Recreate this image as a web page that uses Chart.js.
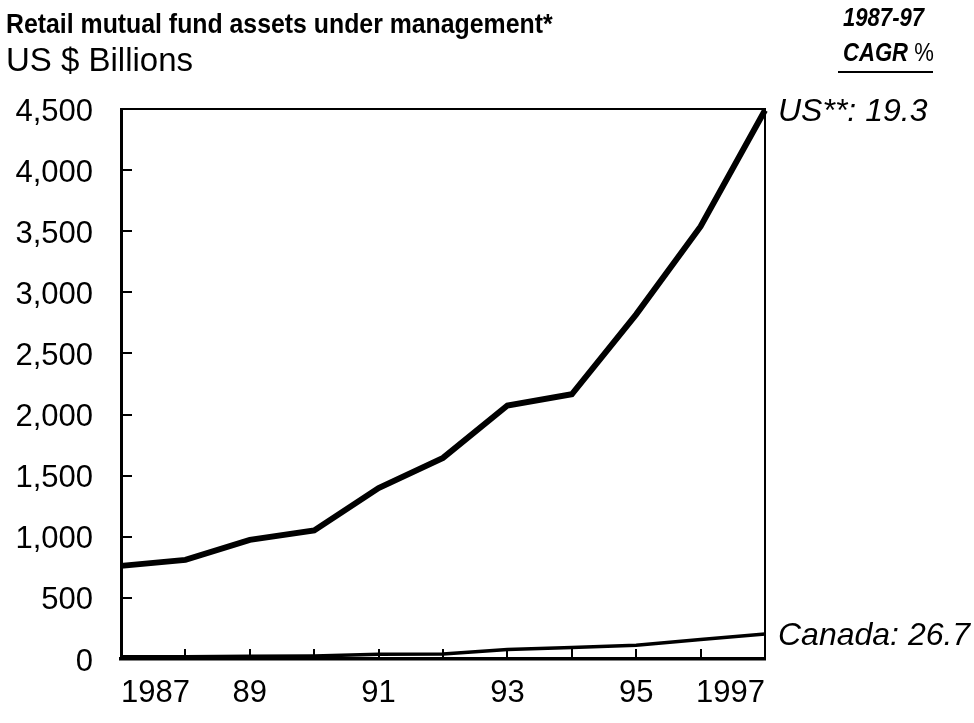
<!DOCTYPE html>
<html>
<head>
<meta charset="utf-8">
<script src="https://cdn.jsdelivr.net/npm/chart.js@4.4.1/dist/chart.umd.min.js"></script>
<style>
  body { margin: 0; background: #fff; }
  #wrap { position: relative; width: 974px; height: 723px; font-family: "Liberation Sans", Arial, sans-serif; color: #000; }
  #chart { position: absolute; left: 0; top: 0; }
  .txt { position: absolute; white-space: nowrap; line-height: 1; transform-origin: left top; }
</style>
</head>
<body>
<div id="wrap">
  <canvas id="chart" width="974" height="723"></canvas>
  <div class="txt" style="left:6px; top:11px; font-size:27px; font-weight:bold; transform:scaleX(0.92);">Retail mutual fund assets under management*</div>
  <div class="txt" style="left:6px; top:43px; font-size:33px;">US $ Billions</div>
  <div class="txt" style="left:843px; top:4px; font-size:26px; font-weight:bold; font-style:italic; transform:scaleX(0.85);">1987-97</div>
  <div class="txt" style="left:843px; top:39px; font-size:26px; transform:scaleX(0.85);"><span style="font-weight:bold; font-style:italic;">CAGR</span> %</div>
  <div style="position:absolute; left:838px; top:71px; width:95px; height:2px; background:#000;"></div>
</div>
<script>
// data
let years = ['1987', '1988', '1989', '1990', '1991', '1992', '1993', '1994', '1995', '1996', '1997'];
let xTickLabels = ['1987', '', '89', '', '91', '', '93', '', '95', '', '1997'];
let usAssets = [762, 811, 975, 1052, 1399, 1645, 2074, 2166, 2820, 3539, 4490];
let canadaAssets = [19, 18, 22, 25, 38, 40, 78, 95, 112, 160, 205];
let seriesLabels = ['US**: 19.3', 'Canada: 26.7'];

const fontFamily = '"Liberation Sans", Arial, sans-serif';

// inside tick marks, top/right frame and the end labels
const extras = {
    id: 'extras',
    afterDraw(chart) {
        const ctx = chart.ctx;
        const area = chart.chartArea;
        const x = chart.scales.x;
        const y = chart.scales.y;
        ctx.save();
        ctx.strokeStyle = '#000';

        ctx.lineWidth = 2;
        ctx.beginPath();
        ctx.moveTo(area.left, area.top);
        ctx.lineTo(area.right, area.top);
        ctx.lineTo(area.right, area.bottom);
        ctx.stroke();

        y.ticks.forEach(t => {
            if (t.value <= y.min || t.value >= y.max) return;
            const py = Math.round(y.getPixelForValue(t.value));
            ctx.beginPath();
            ctx.moveTo(area.left, py);
            ctx.lineTo(area.left + 11, py);
            ctx.stroke();
        });
        for (let i = 1; i < years.length - 1; i++) {
            const px = Math.round(x.getPixelForValue(i));
            ctx.beginPath();
            ctx.moveTo(px, area.bottom);
            ctx.lineTo(px, area.bottom - 10);
            ctx.stroke();
        }

        ctx.fillStyle = '#000';
        ctx.font = 'italic 32px ' + fontFamily;
        ctx.textBaseline = 'middle';
        ctx.textAlign = 'left';
        chart.data.datasets.forEach((ds, i) => {
            const pts = chart.getDatasetMeta(i).data;
            const last = pts[pts.length - 1];
            ctx.fillText(seriesLabels[i], last.x + 13, last.y + 2);
        });
        ctx.restore();
    }
};

new Chart(document.getElementById('chart'), {
    type: 'line',
    data: {
        labels: years,
        datasets: [{
            label: 'US',
            data: usAssets,
            borderColor: '#000',
            borderWidth: 6,
            pointRadius: 0,
            tension: 0,
            clip: false
        }, {
            label: 'Canada',
            data: canadaAssets,
            borderColor: '#000',
            borderWidth: 3.5,
            pointRadius: 0,
            tension: 0,
            clip: false
        }]
    },
    options: {
        responsive: false,
        devicePixelRatio: 1,
        animation: false,
        layout: { padding: { top: 109, right: 209, bottom: 0, left: 0 } },
        plugins: {
            legend: { display: false },
            tooltip: { enabled: false }
        },
        scales: {
            x: {
                grid: { display: false },
                border: { display: true, color: '#000', width: 3.5 },
                afterFit(scale) { scale.height = 64; },
                ticks: {
                    autoSkip: false,
                    maxRotation: 0,
                    align: 'inner',
                    padding: 8,
                    color: '#000',
                    font: { family: fontFamily, size: 31 },
                    callback: (v, i) => xTickLabels[i]
                }
            },
            y: {
                min: 0,
                max: 4500,
                grid: { display: false },
                border: { display: true, color: '#000', width: 3 },
                afterFit(scale) { scale.width = 121; },
                ticks: {
                    stepSize: 500,
                    padding: 20,
                    labelOffset: 3,
                    color: '#000',
                    font: { family: fontFamily, size: 31 },
                    callback: v => v.toLocaleString('en-US')
                }
            }
        }
    },
    plugins: [extras]
});
</script>
</body>
</html>
